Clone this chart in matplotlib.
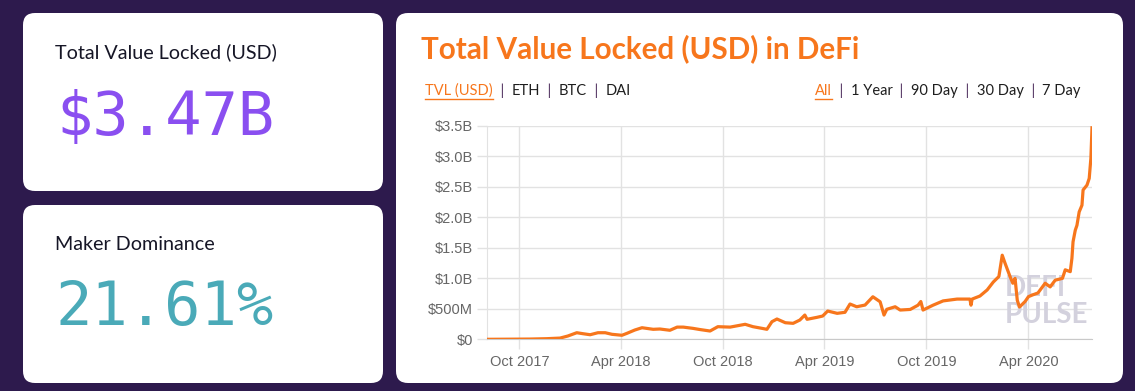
#!/usr/bin/env python3
"""Recreate the DeFi Pulse TVL dashboard chart."""

import matplotlib.pyplot as plt
import pandas as pd
from matplotlib.patches import FancyBboxPatch

# Data (TVL in billions of USD)
tvl_dates = [
    "2017-08-04", "2017-09-15", "2017-10-20", "2017-11-19", "2017-12-13",
    "2017-12-27", "2018-01-12", "2018-01-23", "2018-02-05", "2018-02-19",
    "2018-03-04", "2018-03-16", "2018-04-03", "2018-04-12", "2018-04-26",
    "2018-05-09", "2018-05-29", "2018-06-10", "2018-06-28", "2018-07-11",
    "2018-07-22", "2018-08-08", "2018-08-21", "2018-09-08", "2018-09-22",
    "2018-10-14", "2018-11-10", "2018-11-24", "2018-12-10", "2018-12-19",
    "2018-12-28", "2019-01-06", "2019-01-21", "2019-02-04", "2019-02-16",
    "2019-02-25", "2019-03-01", "2019-03-19", "2019-03-29", "2019-04-07",
    "2019-04-24", "2019-05-08", "2019-05-17", "2019-05-29", "2019-06-13",
    "2019-06-27", "2019-07-10", "2019-07-17", "2019-07-22", "2019-08-06",
    "2019-08-15", "2019-09-02", "2019-09-16", "2019-09-21", "2019-09-25",
    "2019-10-13", "2019-10-31", "2019-11-25", "2019-12-18", "2019-12-20",
    "2019-12-22", "2020-01-05", "2020-01-18", "2020-01-29", "2020-02-08",
    "2020-02-14", "2020-02-19", "2020-02-28", "2020-03-04", "2020-03-08",
    "2020-03-12", "2020-03-16", "2020-03-26", "2020-04-01", "2020-04-09",
    "2020-04-18", "2020-05-01", "2020-05-10", "2020-05-19", "2020-06-01",
    "2020-06-06", "2020-06-15", "2020-06-18", "2020-06-20", "2020-06-24",
    "2020-06-27", "2020-07-01", "2020-07-06", "2020-07-08", "2020-07-15",
    "2020-07-19", "2020-07-22", "2020-07-24",
]
tvl_values = [
    0.0, 0.002, 0.004, 0.01, 0.02,
    0.054, 0.108, 0.092, 0.075, 0.108,
    0.108, 0.082, 0.066, 0.098, 0.152,
    0.19, 0.164, 0.169, 0.148, 0.2,
    0.2, 0.18, 0.16, 0.136, 0.207,
    0.2, 0.246, 0.207, 0.18, 0.164,
    0.289, 0.333, 0.272, 0.262, 0.316,
    0.398, 0.328, 0.361, 0.382, 0.464,
    0.426, 0.443, 0.579, 0.534, 0.562,
    0.698, 0.616, 0.398, 0.492, 0.534,
    0.48, 0.49, 0.56, 0.62, 0.48,
    0.56, 0.63, 0.66, 0.66, 0.56,
    0.66, 0.71, 0.81, 0.94, 1.03,
    1.38, 1.25, 1.03, 0.92, 1.0,
    0.64, 0.53, 0.62, 0.70, 0.73,
    0.76, 0.92, 0.86, 0.97, 1.0,
    1.14, 1.11, 1.33, 1.60, 1.79,
    1.87, 2.09, 2.20, 2.45, 2.53,
    2.64, 2.97, 3.47,
]

y_ticks = [0, 0.5, 1.0, 1.5, 2.0, 2.5, 3.0, 3.5]
y_tick_labels = ["$0", "$500M", "$1.0B", "$1.5B", "$2.0B", "$2.5B", "$3.0B", "$3.5B"]
x_ticks = ["2017-10-01", "2018-04-01", "2018-10-01", "2019-04-01", "2019-10-01", "2020-04-01"]
x_tick_labels = ["Oct 2017", "Apr 2018", "Oct 2018", "Apr 2019", "Oct 2019", "Apr 2020"]

tvl_card_value = "$3.47B"
maker_card_value = "21.61%"
series_tabs = ["TVL (USD)", "ETH", "BTC", "DAI"]
range_tabs = ["All", "1 Year", "90 Day", "30 Day", "7 Day"]

W, H = 1135, 391
BG = "#2d1a4d"
ORANGE = "#f7761c"
UI_FONT = ["Lato", "DejaVu Sans"]


def card(ax, x, y, w, h):
    ax.add_patch(FancyBboxPatch((x, y), w, h, boxstyle="round,pad=0,rounding_size=12",
                                fc="white", ec="none"))


def draw_runs(ax, x, y, runs, renderer, size):
    """Draw text pieces one after another; underline where asked."""
    for text, color, underline in runs:
        t = ax.text(x, y, text, color=color, fontsize=size, family=UI_FONT,
                    va="center", ha="left")
        width = t.get_window_extent(renderer).width
        if underline:
            ax.plot([x, x + width], [y + 8, y + 8], color=color, lw=1)
        x += width


def make_plot(output_filename):
    fig = plt.figure(figsize=(W / 100, H / 100), dpi=100)
    fig.patch.set_facecolor(BG)

    # pixel-space background axes for the cards
    bg = fig.add_axes([0, 0, 1, 1])
    bg.set_xlim(0, W)
    bg.set_ylim(H, 0)
    bg.axis("off")
    card(bg, 23, 13, 360, 178)
    card(bg, 23, 205, 360, 178)
    card(bg, 396, 13, 727, 370)

    bg.text(55, 52, "Total Value Locked (USD)", fontsize=14.2, family=UI_FONT,
            color="#161626", va="center")
    bg.text(56, 118, tvl_card_value, fontsize=43.5, family="DejaVu Sans Mono",
            color="#8a4ff0", va="center")
    bg.text(55, 244, "Maker Dominance", fontsize=14.2, family=UI_FONT,
            color="#161626", va="center")
    bg.text(56, 309, maker_card_value, fontsize=43.5, family="DejaVu Sans Mono",
            color="#4aaab8", va="center")

    bg.text(421, 49, "Total Value Locked (USD) in DeFi", fontsize=21.3, family=UI_FONT,
            fontweight="bold", color=ORANGE, va="center")

    fig.canvas.draw()
    renderer = fig.canvas.get_renderer()
    sep = "#4a2a5a"
    runs = []
    for i, name in enumerate(series_tabs):
        if i:
            runs.append(("  |  ", sep, False))
        runs.append((name, ORANGE if i == 0 else "#1e1e1e", i == 0))
    draw_runs(bg, 425, 91, runs, renderer, 10.5)
    runs = []
    for i, name in enumerate(range_tabs):
        if i:
            runs.append(("  |  ", sep, False))
        runs.append((name, ORANGE if i == 0 else "#1e1e1e", i == 0))
    draw_runs(bg, 815, 91, runs, renderer, 10.5)

    # chart
    left, right, top, bottom = 487, 1092, 126, 339.3
    ax = fig.add_axes([left / W, (H - bottom) / H, (right - left) / W, (bottom - top) / H])
    ax.set_facecolor("white")
    dates = pd.to_datetime(tvl_dates)
    ax.plot(dates, tvl_values, color=ORANGE, lw=2.3, zorder=3)
    ax.set_xlim(dates[0], dates[-1])
    ax.set_ylim(0, 3.5)

    ax.set_yticks(y_ticks)
    ax.set_yticklabels(y_tick_labels)
    ax.set_xticks(pd.to_datetime(x_ticks))
    ax.set_xticklabels(x_tick_labels)
    for lab in ax.get_xticklabels() + ax.get_yticklabels():
        lab.set_family(["Liberation Sans", "DejaVu Sans"])
    ax.tick_params(length=7, width=1, color="#e2e2e2", labelcolor="#666666",
                   labelsize=10.5, pad=3)
    ax.tick_params(axis="x", pad=4)
    ax.grid(True, color="#e2e2e2", lw=1, zorder=0)
    for side in ("top", "right"):
        ax.spines[side].set_visible(False)
    ax.spines["left"].set_color("#e2e2e2")
    ax.spines["bottom"].set_color("#c9c9c9")

    # watermark
    mark = dict(transform=ax.transAxes, ha="left", va="center", fontsize=20,
                fontweight="bold", color="#d3d1dd", family=UI_FONT, zorder=2)
    ax.text(0.855, 0.24, "DEFI", **mark)
    ax.text(0.855, 0.114, "PULSE", **mark)

    fig.savefig(output_filename, dpi=100, facecolor=BG)


if __name__ == "__main__":
    make_plot("out.png")
